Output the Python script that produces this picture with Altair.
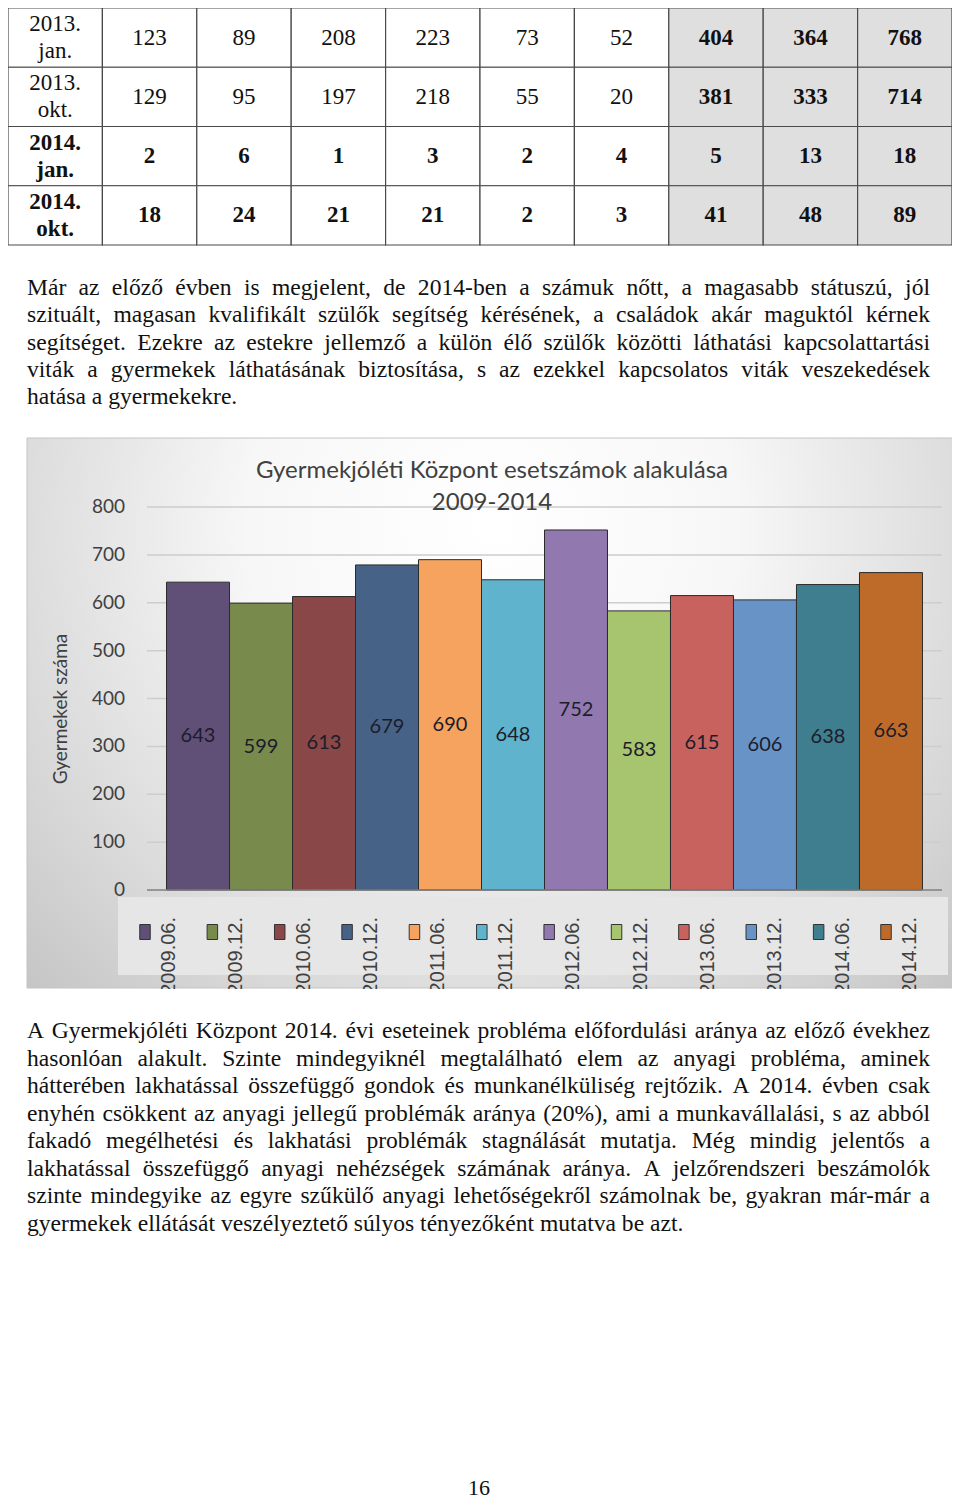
import unicodedata
import altair as alt
import pandas as pd

# ---------------- data ----------------
table_rows = ["2013.\njan.", "2013.\nokt.", "2014.\njan.", "2014.\nokt."]
table_row_bold = [False, False, True, True]
table_r1 = [123, 89, 208, 223, 73, 52, 404, 364, 768]
table_r2 = [129, 95, 197, 218, 55, 20, 381, 333, 714]
table_r3 = [2, 6, 1, 3, 2, 4, 5, 13, 18]
table_r4 = [18, 24, 21, 21, 2, 3, 41, 48, 89]
table_gray_cols = [7, 8, 9]

para1 = [
    "Már az előző évben is megjelent, de 2014-ben a számuk nőtt, a magasabb státuszú, jól",
    "szituált, magasan kvalifikált szülők segítség kérésének, a családok akár maguktól kérnek",
    "segítséget. Ezekre az estekre jellemző a külön élő szülők közötti láthatási kapcsolattartási",
    "viták a gyermekek láthatásának biztosítása, s az ezekkel kapcsolatos viták veszekedések",
    "hatása a gyermekekre.",
]
para2 = [
    "A Gyermekjóléti Központ 2014. évi eseteinek probléma előfordulási aránya az előző évekhez",
    "hasonlóan alakult. Szinte mindegyiknél megtalálható elem az anyagi probléma, aminek",
    "hátterében lakhatással összefüggő gondok és munkanélküliség rejtőzik. A 2014. évben csak",
    "enyhén csökkent az anyagi jellegű problémák aránya (20%), ami a munkavállalási, s az abból",
    "fakadó megélhetési és lakhatási problémák stagnálását mutatja. Még mindig jelentős a",
    "lakhatással összefüggő anyagi nehézségek számának aránya. A jelzőrendszeri beszámolók",
    "szinte mindegyike az egyre szűkülő anyagi lehetőségekről számolnak be, gyakran már-már a",
    "gyermekek ellátását veszélyeztető súlyos tényezőként mutatva be azt.",
]

chart_title = ["Gyermekjóléti Központ esetszámok alakulása", "2009-2014"]
y_title = "Gyermekek száma"
periods = ["2009.06.", "2009.12.", "2010.06.", "2010.12.", "2011.06.", "2011.12.",
           "2012.06.", "2012.12.", "2013.06.", "2013.12.", "2014.06.", "2014.12."]
counts = [643, 599, 613, 679, 690, 648, 752, 583, 615, 606, 638, 663]
bar_colors = ["#605078", "#788a4c", "#8a4747", "#466387", "#f5a35f", "#60b3cc",
              "#9179b0", "#a7c46e", "#c8625f", "#6893c6", "#3f7e8e", "#be6a29"]
y_ticks = [0, 100, 200, 300, 400, 500, 600, 700, 800]
page_number = "16"

# ---------------- text layout helpers (justified paragraphs) ----------------
SERIF = "Liberation Serif, Times New Roman, serif"
PARA_SIZE = 23.6
LEFT, RIGHT = 19, 922
_w = {" ": 250, ",": 250, ".": 250, "-": 333, "(": 333, ")": 333, "%": 833}
_w.update({d: 500 for d in "0123456789"})
_w.update(dict(zip("abcdefghijklmnopqrstuvwxyz",
                   [444, 500, 444, 500, 444, 333, 500, 500, 278, 278, 500, 278, 778,
                    500, 500, 500, 500, 333, 389, 278, 500, 500, 722, 500, 500, 444])))
_w.update(dict(zip("ABCDEFGHIJKLMNOPQRSTUVWXYZ",
                   [722, 667, 667, 722, 611, 556, 722, 722, 333, 389, 722, 611, 889,
                    722, 722, 556, 722, 667, 556, 611, 722, 722, 944, 722, 722, 611])))


def word_width(s):
    tot = 0
    for ch in s:
        b = unicodedata.normalize("NFD", ch)[0]
        tot += _w.get(b, 500)
    return tot * PARA_SIZE / 1000.0


def layout(lines):
    rows = []
    for li, line in enumerate(lines):
        words = line.split(" ")
        last = li == len(lines) - 1
        if last or len(words) < 2:
            rows.append({"i": li, "w": line, "wx": LEFT})
            continue
        widths = [word_width(w) for w in words]
        gap = (RIGHT - LEFT - sum(widths)) / (len(words) - 1)
        x = LEFT
        for w, wd in zip(words, widths):
            rows.append({"i": li, "w": w, "wx": x})
            x += wd + gap
    return pd.DataFrame(rows)


# ---------------- tables ----------------
cols = [f"c{i}" for i in range(10)]
rkeys = [f"r{i}" for i in range(4)]
vals = [table_r1, table_r2, table_r3, table_r4]
cells = []
for ri, rk in enumerate(rkeys):
    for ci, ck in enumerate(cols):
        txt = table_rows[ri] if ci == 0 else str(vals[ri][ci - 1])
        bold = table_row_bold[ri] or (ci in table_gray_cols)
        cells.append({"col": ck, "row": rk, "txt": txt, "bold": bold, "lab": ci == 0,
                      "fill": "#dfdfdf" if ci in table_gray_cols else "#ffffff"})
df_tab = pd.DataFrame(cells)

df_p1 = layout(para1)
df_p2 = layout(para2)
df_bar = pd.DataFrame({"period": periods, "n": counts})
df_ticks = pd.DataFrame({"v": y_ticks})
one = pd.DataFrame({"a": [0]})

# ---------------- scales ----------------
tab_x = alt.Scale(type="band", domain=cols, range=[0, 944], paddingInner=0, paddingOuter=0)
tab_y = alt.Scale(type="band", domain=rkeys, range=[0, 237], paddingInner=0, paddingOuter=0)
page_x = alt.Scale(type="linear", domain=[0, 944], range=[0, 944], nice=False, zero=False)
p1_y = alt.Scale(type="point", domain=list(range(len(para1))), range=[280, 389], padding=0)
p2_y = alt.Scale(type="point", domain=list(range(len(para2))), range=[1023, 1216], padding=0)
bar_x = alt.Scale(type="band", domain=periods, range=[139, 934], paddingInner=0, paddingOuter=0.31)
bar_y = alt.Scale(type="linear", domain=[0, 800], range=[882, 499], nice=False, zero=True)
leg_x = alt.Scale(type="point", domain=periods, range=[137, 878], padding=0)
leg_lx = alt.Scale(type="point", domain=periods, range=[161, 902], padding=0)
color_scale = alt.Scale(domain=periods, range=bar_colors)

sans = "Lato"
layers = []

# table
layers.append(alt.Chart(df_tab).mark_rect(stroke="#4a4a4a", strokeWidth=1.2).encode(
    x=alt.X("col:N", scale=tab_x, axis=None),
    y=alt.Y("row:N", scale=tab_y, axis=None),
    fill=alt.Fill("fill:N", scale=None)))
for b in (False, True):
    for lab in (False, True):
        sub = df_tab[(df_tab["bold"] == b) & (df_tab["lab"] == lab)]
        layers.append(alt.Chart(sub).mark_text(
            font=SERIF, fontSize=23, lineBreak="\n", lineHeight=27, baseline="middle",
            align="center", color="#111111", dy=-13.5 if lab else 0,
            fontWeight="bold" if b else "normal").encode(
            x=alt.X("col:N", scale=tab_x, axis=None),
            y=alt.Y("row:N", scale=tab_y, axis=None),
            text="txt:N"))

# paragraphs (justified)
for df, sc in ((df_p1, p1_y), (df_p2, p2_y)):
    layers.append(alt.Chart(df).mark_text(
        font=SERIF, fontSize=PARA_SIZE, align="left", baseline="middle", color="#111111").encode(
        x=alt.X("wx:Q", scale=page_x, axis=None),
        y=alt.Y("i:O", scale=sc, axis=None), text="w:N"))

# chart background
grad = {"gradient": "radial", "x1": 0.5, "y1": 0.3, "r1": 0, "x2": 0.5, "y2": 0.3, "r2": 0.75,
        "stops": [{"offset": 0, "color": "#ffffff"}, {"offset": 0.35, "color": "#f7f7f7"},
                  {"offset": 0.75, "color": "#d6d6d6"}, {"offset": 1, "color": "#c0c0c0"}]}
layers.append(alt.Chart(one).mark_rect(fill=grad, stroke="#c4c4c4", strokeWidth=1).encode(
    x=alt.value(19), x2=alt.value(950), y=alt.value(430), y2=alt.value(980)))
layers.append(alt.Chart(one).mark_rect(fill="#e6e6e6").encode(
    x=alt.value(110), x2=alt.value(940), y=alt.value(889), y2=alt.value(967)))

# gridlines
layers.append(alt.Chart(df_ticks[df_ticks["v"] > 0]).mark_rule(color="#cdcdcd", strokeWidth=1.5).encode(
    x=alt.value(139), x2=alt.value(934), y=alt.Y("v:Q", scale=bar_y, axis=None)))

# bars
layers.append(alt.Chart(df_bar).mark_bar(stroke="#2b2b2b", strokeWidth=1).encode(
    x=alt.X("period:N", scale=bar_x, axis=None),
    y=alt.Y("n:Q", scale=bar_y, axis=None),
    color=alt.Color("period:N", scale=color_scale, legend=None)))
layers.append(alt.Chart(df_ticks[df_ticks["v"] == 0]).mark_rule(color="#808080", strokeWidth=1.5).encode(
    x=alt.value(139), x2=alt.value(934), y=alt.Y("v:Q", scale=bar_y, axis=None)))
layers.append(alt.Chart(df_bar).transform_calculate(half="datum.n / 2").mark_text(
    font=sans, fontSize=20, color="#1c1c2a", baseline="middle").encode(
    x=alt.X("period:N", scale=bar_x, axis=None),
    y=alt.Y("half:Q", scale=bar_y, axis=None),
    text="n:Q"))

# y tick labels and title
layers.append(alt.Chart(df_ticks).mark_text(
    font=sans, fontSize=19, color="#404040", align="right", baseline="middle").encode(
    x=alt.value(117), y=alt.Y("v:Q", scale=bar_y, axis=None), text="v:Q"))
layers.append(alt.Chart(one).mark_text(
    text=y_title, font=sans, fontSize=19, color="#404040", angle=270,
    align="center", baseline="middle").encode(x=alt.value(53), y=alt.value(701)))

# chart title
layers.append(alt.Chart(one).mark_text(
    text=chart_title[0], font=sans, fontSize=24, color="#404040",
    align="center", baseline="middle").encode(x=alt.value(484), y=alt.value(463)))
layers.append(alt.Chart(one).mark_text(
    text=chart_title[1], font=sans, fontSize=24, color="#404040",
    align="center", baseline="middle").encode(x=alt.value(484), y=alt.value(495)))

# legend
layers.append(alt.Chart(df_bar).mark_point(
    shape="M-0.7,-1H0.7V1H-0.7Z", size=225, filled=True, stroke="#333333",
    strokeWidth=1, opacity=1).encode(
    x=alt.X("period:N", scale=leg_x, axis=None),
    y=alt.value(924),
    color=alt.Color("period:N", scale=color_scale, legend=None)))
layers.append(alt.Chart(df_bar).mark_text(
    font="Liberation Sans", fontSize=20, color="#404040", angle=270,
    align="right", baseline="middle").encode(
    x=alt.X("period:N", scale=leg_lx, axis=None),
    y=alt.value(909), text="period:N"))
# white page strip below the chart image (clips the legend labels like the reference)
layers.append(alt.Chart(one).mark_rect(fill="#ffffff").encode(
    x=alt.value(0), x2=alt.value(944), y=alt.value(981), y2=alt.value(1003)))

# page number
layers.append(alt.Chart(one).mark_text(
    text=page_number, font=SERIF, fontSize=22, color="#111111",
    align="center", baseline="middle").encode(x=alt.value(471), y=alt.value(1480)))

chart = alt.layer(*layers).resolve_scale(
    x="independent", y="independent", color="independent", fill="independent"
).properties(
    width=944, height=1495, padding=0, autosize=alt.AutoSizeParams(type="none")
).configure_view(stroke=None)

chart.save("out.html", embed_options={"renderer": "svg", "actions": False})
